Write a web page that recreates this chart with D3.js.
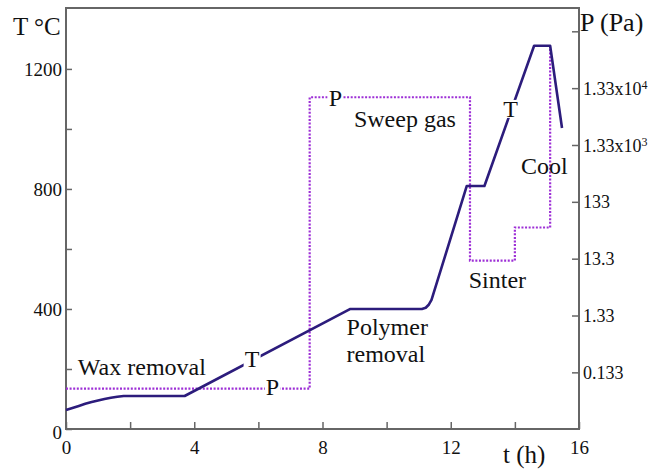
<!DOCTYPE html>
<html>
<head>
<meta charset="utf-8">
<script src="https://cdn.jsdelivr.net/npm/d3@7"></script>
<style>
  html, body { margin: 0; padding: 0; background: #fff; }
  svg { display: block; }
</style>
</head>
<body>
<svg id="chart" width="659" height="469"></svg>
<script>
// Sintering schedule: furnace temperature (left axis) and pressure (right, log axis)
const tempTime  = [0, 0.2, 0.4, 0.6, 0.8, 1.0, 1.2, 1.4, 1.6, 1.8, 3.7, 8.87, 11.1, 11.22, 11.32, 11.4, 12.5, 13.05, 14.6, 15.1, 15.47];
const tempValue = [63, 70, 77, 84, 90, 95, 100, 104, 107.5, 110, 110, 400, 400, 404, 415, 430, 810, 810, 1277, 1277, 1003];

const presTime  = [0, 7.6, 7.6, 12.6, 12.6, 14.0, 14.0, 15.1, 15.1];
const presValue = [0.069, 0.069, 9200, 9200, 12.3, 12.3, 47, 47, 67000];

const timeTicks = [0, 2, 4, 6, 8, 10, 12, 14, 16];
const timeLabels = ["0", "", "4", "", "8", "", "12", "", "16"];
const tempTicks = [0, 200, 400, 600, 800, 1000, 1200];
const tempLabels = ["0", "", "400", "", "800", "", "1200"];
const presTicks = [0.133, 1.33, 13.3, 133, 1330, 13300, 133000];
const presLabels = [["0.133", ""], ["1.33", ""], ["13.3", ""], ["133", ""], ["1.33x10", "3"], ["1.33x10", "4"], ["", ""]];

const stageLabels = [
  { text: "Wax removal", t: 0.37, T: 180 },
  { text: "Sweep gas", t: 8.98, T: 1006 },
  { text: "Polymer", t: 8.75, T: 313 },
  { text: "removal", t: 8.75, T: 223 },
  { text: "Sinter", t: 12.56, T: 470 },
  { text: "Cool", t: 14.19, T: 850 }
];
// Curve tags drawn over the lines on a white patch
const curveTags = [
  { text: "T", t: 5.8, T: 207 },
  { text: "P", t: 6.44, T: 113 },
  { text: "P", t: 8.4, T: 1077 },
  { text: "T", t: 13.87, T: 1040 }
];

const FONT = '"Liberation Serif", "Times New Roman", serif';
const svg = d3.select("#chart").style("font-family", FONT);
const plotLeft = 66, plotRight = 579, plotTop = 8, plotBottom = 429;

const x = d3.scaleLinear().domain([0, 16]).range([plotLeft, plotRight]);
const yT = d3.scaleLinear().domain([0, 1403]).range([plotBottom, plotTop]);
const yP = d3.scaleLog().domain([0.0134, 342000]).range([plotBottom, plotTop]);

const axisColor = "#666";

// frame
svg.append("rect")
  .attr("x", plotLeft).attr("y", plotTop)
  .attr("width", plotRight - plotLeft).attr("height", plotBottom - plotTop)
  .attr("fill", "none").attr("stroke", axisColor).attr("stroke-width", 2);

function styleTickText(sel, size) {
  sel.style("font-size", size).style("font-family", FONT).attr("fill", "#111");
}

// bottom axis (ticks point inward)
const xAxis = d3.axisBottom(x).tickValues(timeTicks).tickSizeInner(-7).tickSizeOuter(0)
  .tickFormat((d, i) => timeLabels[i]);
const gx = svg.append("g").attr("transform", `translate(0,${plotBottom})`).call(xAxis);
gx.select(".domain").remove();
gx.selectAll(".tick line").attr("stroke", axisColor).attr("stroke-width", 1.5);
styleTickText(gx.selectAll(".tick text").attr("y", 12).attr("dy", "0.71em"), "19px");

// left axis
const yAxisL = d3.axisLeft(yT).tickValues(tempTicks).tickSizeInner(-6).tickSizeOuter(0)
  .tickFormat((d, i) => tempLabels[i]);
const gl = svg.append("g").attr("transform", `translate(${plotLeft},0)`).call(yAxisL);
gl.select(".domain").remove();
gl.selectAll(".tick line").attr("stroke", axisColor).attr("stroke-width", 1.5);
styleTickText(gl.selectAll(".tick text").attr("x", -4), "19px");
gl.selectAll(".tick").filter(d => d === 0).select("text").attr("dy", "0.5em");

// right axis (log pressure)
const yAxisR = d3.axisRight(yP).tickValues(presTicks).tickSizeInner(-7).tickSizeOuter(0)
  .tickFormat(() => "");
const gr = svg.append("g").attr("transform", `translate(${plotRight},0)`).call(yAxisR);
gr.select(".domain").remove();
gr.selectAll(".tick line").attr("stroke", axisColor).attr("stroke-width", 1.5);
gr.selectAll(".tick text").remove();
gr.selectAll(".tick").each(function (d, i) {
  const lab = presLabels[i];
  if (!lab[0]) return;
  const t = d3.select(this).append("text")
    .attr("x", 4).attr("dy", "0.34em");
  styleTickText(t, "18px");
  t.append("tspan").text(lab[0]);
  if (lab[1]) t.append("tspan").attr("dy", "-0.45em").style("font-size", "12px").text(lab[1]);
});

// axis titles
function title(xp, yp, size, str) {
  svg.append("text").attr("x", xp).attr("y", yp)
    .style("font-family", FONT).style("font-size", size).attr("fill", "#111").text(str);
}
title(13, 35, "25px", "T °C");
title(580, 31, "26px", "P (Pa)");
title(503, 463, "25px", "t (h)");

// pressure curve
const pLine = d3.line().x(d => x(d[0])).y(d => yP(d[1]));
svg.append("path")
  .datum(presTime.map((t, i) => [t, presValue[i]]))
  .attr("d", pLine)
  .attr("fill", "none").attr("stroke", "#9d2fd6").attr("stroke-width", 2.2)
  .attr("stroke-dasharray", "2 1.6");

// temperature curve
const tLine = d3.line().x(d => x(d[0])).y(d => yT(d[1]));
svg.append("path")
  .datum(tempTime.map((t, i) => [t, tempValue[i]]))
  .attr("d", tLine)
  .attr("fill", "none").attr("stroke", "#2c1c7c").attr("stroke-width", 2.6)
  .attr("stroke-linejoin", "round");

// stage annotations
svg.selectAll("text.stage").data(stageLabels).enter().append("text")
  .attr("class", "stage")
  .attr("x", d => x(d.t)).attr("y", d => yT(d.T))
  .style("font-family", FONT).style("font-size", "24px").attr("fill", "#111")
  .text(d => d.text);

// curve tags with white backing
const tags = svg.selectAll("g.tag").data(curveTags).enter().append("g").attr("class", "tag");
tags.append("text")
  .attr("x", d => x(d.t)).attr("y", d => yT(d.T))
  .attr("text-anchor", "middle")
  .style("font-family", FONT).style("font-size", "24px").attr("fill", "#111")
  .text(d => d.text)
  .each(function () {
    const b = this.getBBox();
    d3.select(this.parentNode).insert("rect", "text")
      .attr("x", b.x - 1).attr("y", b.y + 4)
      .attr("width", b.width + 2).attr("height", b.height - 8)
      .attr("fill", "#fff");
  });
</script>
</body>
</html>
